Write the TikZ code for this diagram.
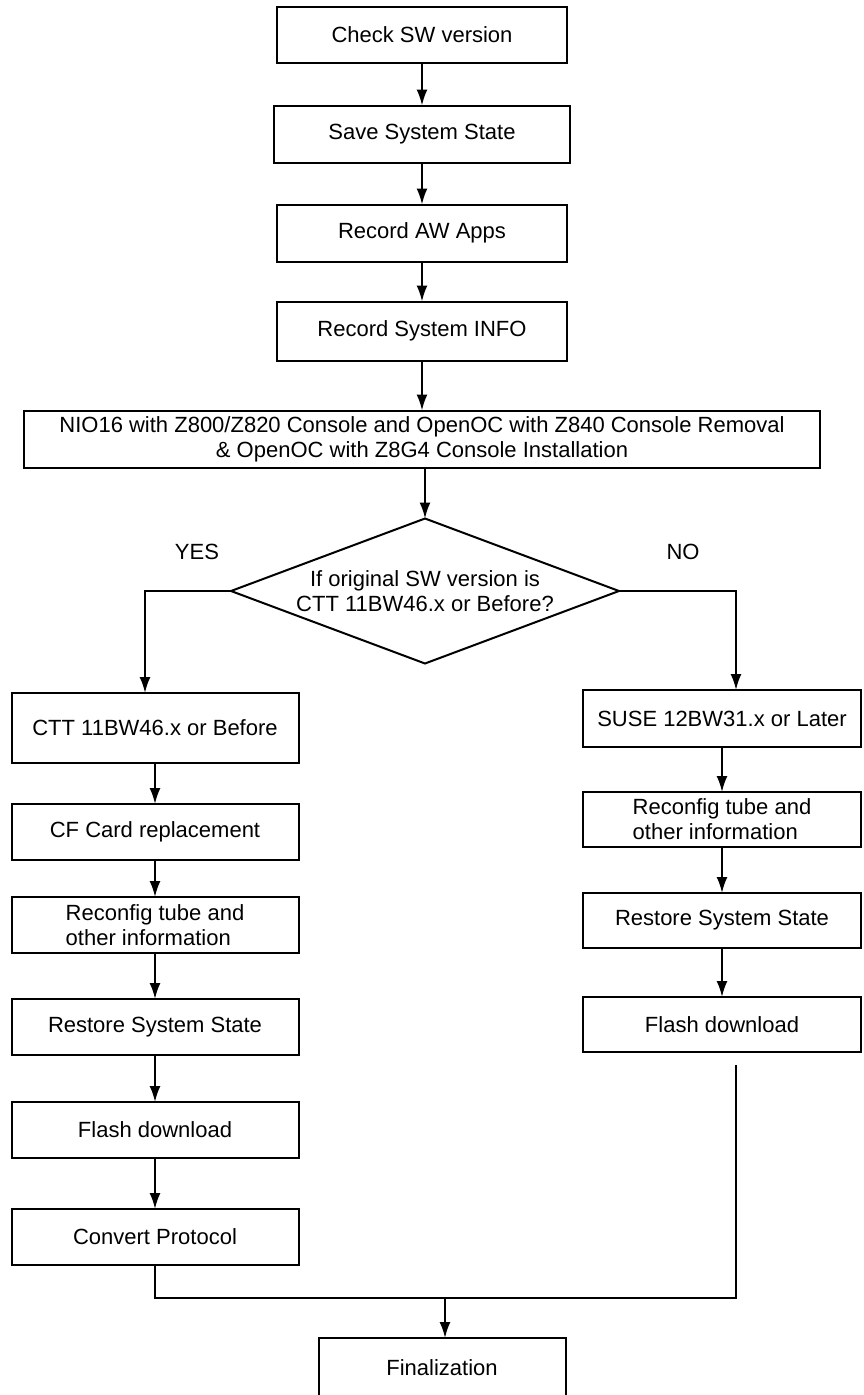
\documentclass[tikz,border=0pt]{standalone}
\usepackage{fontspec}
\setmainfont{Liberation Sans}
\usetikzlibrary{shapes.geometric,arrows.meta,positioning}

\begin{document}
\begin{tikzpicture}[
        x=1pt, y=-1pt,
        every node/.style={font=\fontsize{22}{25}\selectfont},
        box/.style={rectangle, draw, line width=2pt, outer sep=0pt, minimum width=290pt, minimum height=57pt, align=center},
        sidebox/.style={box, minimum width=287pt},
        rightbox/.style={box, minimum width=278pt},
        decision/.style={diamond, draw, line width=2pt, outer sep=0pt, aspect=2.69, inner sep=0pt, minimum width=388pt, minimum height=145pt, align=center},
        arrow/.style={-{Latex[length=16pt,width=11pt]}, line width=2pt},
        line/.style={line width=2pt}
    ]
        \useasboundingbox (0,0) rectangle (863,1395);

        % main chain
        \node[box, minimum height=56pt] (check) at (422,34.5) {Check SW version};
        \node[box, minimum width=296pt, below=43pt of check] (save) {Save System State};
        \node[box, below=42pt of save] (apps) {Record AW Apps};
        \node[box, minimum height=59pt, below=40pt of apps] (info) {Record System INFO};
        \node[box, minimum width=796pt, below=50pt of info] (nio) {NIO16 with Z800/Z820 Console and OpenOC with Z840 Console Removal\\ \& OpenOC with Z8G4 Console Installation};
        \node[decision, below=51pt of nio, xshift=3pt] (dec) {If original SW version is\\ CTT 11BW46.x or Before?};

        \node (yes) at (197,552) {YES};
        \node (no) at (683,552) {NO};

        % YES branch
        \node[sidebox, minimum height=70pt] (ctt) at (155,728) {CTT 11BW46.x or Before};
        \node[sidebox, minimum height=56pt, below=41pt of ctt] (cf) {CF Card replacement};
        \node[sidebox, minimum height=56pt, align=left, below=37pt of cf] (rcl) {Reconfig tube and\\other information};
        \node[sidebox, minimum height=56pt, below=46pt of rcl] (rsl) {Restore System State};
        \node[sidebox, minimum height=56pt, below=47pt of rsl] (fll) {Flash download};
        \node[sidebox, minimum height=56pt, below=51pt of fll] (cvt) {Convert Protocol};

        % NO branch
        \node[rightbox] (suse) at (722,718.5) {SUSE 12BW31.x or Later};
        \node[rightbox, minimum height=55pt, align=left, below=45pt of suse] (rcr) {Reconfig tube and\\other information};
        \node[rightbox, minimum height=55pt, below=46pt of rcr] (rsr) {Restore System State};
        \node[rightbox, minimum height=55pt, below=49pt of rsr] (flr) {Flash download};

        % end
        \coordinate (merge) at (445,1298);
        \coordinate (rtail) at ([xshift=14pt,yshift=-13pt]flr.south);
        \node[box, minimum width=247pt, minimum height=60pt] (final) at (442,1368) {Finalization};

        \draw[arrow] (check) -- (save);
        \draw[arrow] (save) -- (apps);
        \draw[arrow] (apps) -- (info);
        \draw[arrow] (info) -- (nio);
        \draw[arrow] (nio.south -| dec.north) -- (dec.north);

        \draw[arrow] (dec.west) -| ([xshift=-10pt]ctt.north);
        \draw[arrow] (dec.east) -| ([xshift=14pt]suse.north);

        \draw[arrow] (ctt) -- (cf);
        \draw[arrow] (cf) -- (rcl);
        \draw[arrow] (rcl) -- (rsl);
        \draw[arrow] (rsl) -- (fll);
        \draw[arrow] (fll) -- (cvt);

        \draw[arrow] (suse) -- (rcr);
        \draw[arrow] (rcr) -- (rsr);
        \draw[arrow] (rsr) -- (flr);

        \draw[line] (cvt.south) |- (merge) -| (rtail);
        \draw[arrow] (merge) -- (merge |- final.north);
    \end{tikzpicture}
\end{document}
